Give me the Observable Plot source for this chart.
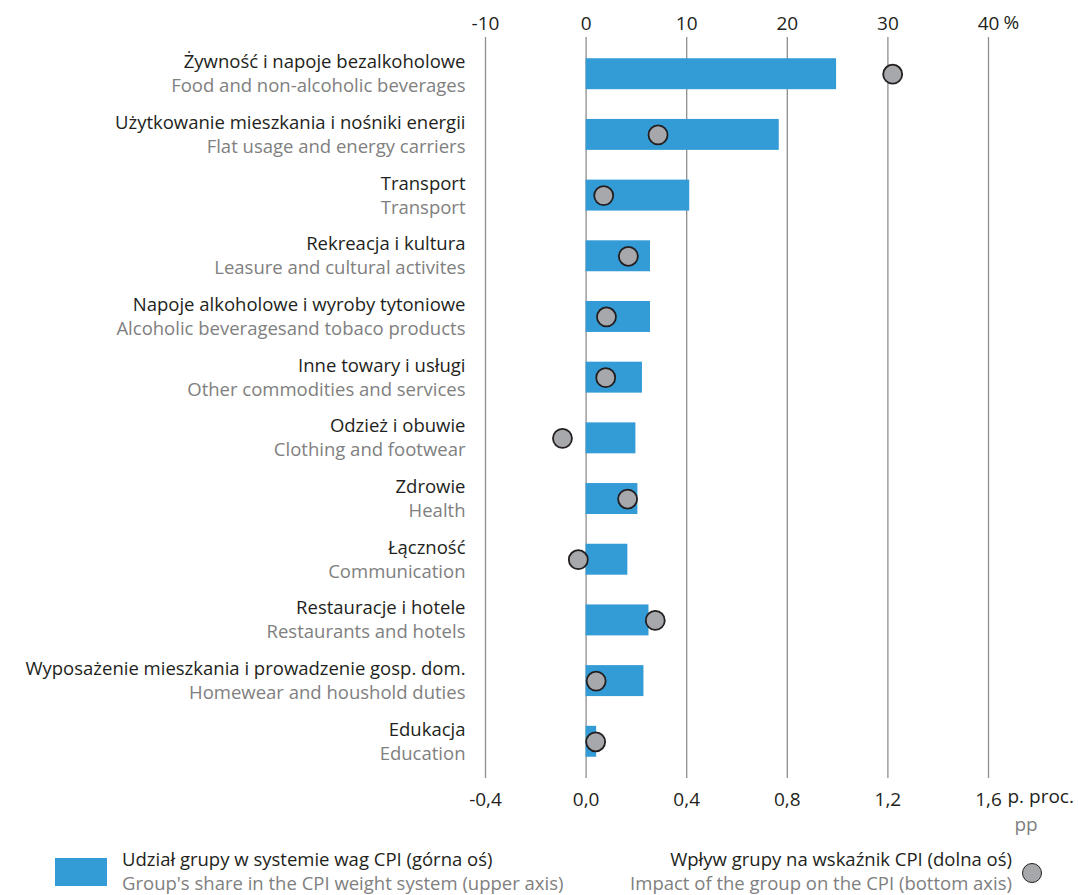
<!DOCTYPE html>
<html>
<head>
<meta charset="utf-8">
<script src="https://cdn.jsdelivr.net/npm/d3@7"></script>
<script src="https://cdn.jsdelivr.net/npm/@observablehq/plot@0.6"></script>
<style>
  html, body { margin: 0; padding: 0; background: #fff; }
  body { width: 1078px; height: 895px; position: relative; overflow: hidden; font-family: "Open Sans", sans-serif; }
  #chart { position: absolute; left: 0; top: 0; }
  .leg { position: absolute; font-size: 18.5px; line-height: 24px; white-space: nowrap; }
  .pl { color: #231f20; }
  .en { color: #808080; }
</style>
</head>
<body>
<div id="chart"></div>
<div class="leg" style="left:55px; top:858px; width:52px; height:28px; background:#339bd6;"></div>
<div class="leg" style="left:122px; top:847px;"><div class="pl">Udział grupy w systemie wag CPI (górna oś)</div><div class="en">Group's share in the CPI weight system (upper axis)</div></div>
<div class="leg" style="right:66px; top:847px; text-align:right;"><div class="pl">Wpływ grupy na wskaźnik CPI (dolna oś)</div><div class="en">Impact of the group on the CPI (bottom axis)</div></div>
<div class="leg" style="left:1022px; top:863px; width:18px; height:18px; border-radius:50%; background:#a7a8ac; border:1.6px solid #231f20;"></div>
<script>
const categoriesPL = [
  "Żywność i napoje bezalkoholowe",
  "Użytkowanie mieszkania i nośniki energii",
  "Transport",
  "Rekreacja i kultura",
  "Napoje alkoholowe i wyroby tytoniowe",
  "Inne towary i usługi",
  "Odzież i obuwie",
  "Zdrowie",
  "Łączność",
  "Restauracje i hotele",
  "Wyposażenie mieszkania i prowadzenie gosp. dom.",
  "Edukacja"
];
const categoriesEN = [
  "Food and non-alcoholic beverages",
  "Flat usage and energy carriers",
  "Transport",
  "Leasure and cultural activites",
  "Alcoholic beveragesand tobaco products",
  "Other commodities and services",
  "Clothing and footwear",
  "Health",
  "Communication",
  "Restaurants and hotels",
  "Homewear and houshold duties",
  "Education"
];
// Group's share in the CPI weight system (%), upper axis
const weights = [24.9, 19.2, 10.3, 6.4, 6.4, 5.6, 4.95, 5.15, 4.15, 6.25, 5.75, 1.05];
// Impact of the group on the CPI (pp), bottom axis
const impacts = [1.219, 0.286, 0.070, 0.168, 0.081, 0.078, -0.094, 0.165, -0.031, 0.275, 0.040, 0.038];

const topTicks = [-10, 0, 10, 20, 30, 40];
const topTickLabels = ["-10", "0", "10", "20", "30", "40"];
const bottomTickLabels = ["-0,4", "0,0", "0,4", "0,8", "1,2", "1,6"];
const axisRatio = 25; // 1 pp on bottom axis = 25 % on top axis

const rows = categoriesPL.map((pl, i) => ({
  pl, en: categoriesEN[i], weight: weights[i], impact: impacts[i], impactScaled: impacts[i] * axisRatio
}));

const font = "'Open Sans', sans-serif";
const chart = Plot.plot({
  width: 1078,
  height: 840,
  marginLeft: 485,
  marginRight: 90,
  marginTop: 37,
  marginBottom: 62,
  style: { fontFamily: font, background: "#fff" },
  x: { domain: [-10, 40] },
  y: { domain: categoriesPL, paddingInner: 0.49, paddingOuter: 0.35, round: false, axis: null },
  marks: [
    Plot.ruleX(topTicks, { stroke: "#8e8e8e", strokeWidth: 1.3 }),
    Plot.axisX({ anchor: "top", ticks: topTicks, tickFormat: (d, i) => topTickLabels[i], tickSize: 0, tickPadding: 8, fontSize: 19, fill: "#231f20" }),
    Plot.axisX({ anchor: "bottom", ticks: topTicks, tickFormat: (d, i) => bottomTickLabels[i], tickSize: 0, tickPadding: 14, fontSize: 19, fill: "#231f20" }),
    Plot.text([40], { x: d => d, frameAnchor: "top", dy: -22, dx: 15, text: () => "%", textAnchor: "start", fontSize: 19, fill: "#231f20" }),
    Plot.text([40], { x: d => d, frameAnchor: "bottom", dy: 24, dx: 19, text: () => "p. proc.", textAnchor: "start", fontSize: 19, fill: "#231f20" }),
    Plot.text([40], { x: d => d, frameAnchor: "bottom", dy: 52, dx: 26, text: () => "pp", textAnchor: "start", fontSize: 19, fill: "#808080" }),
    Plot.barX(rows, { x1: 0, x2: "weight", y: "pl", fill: "#339bd6" }),
    Plot.dot(rows, { x: "impactScaled", y: "pl", r: 9.5, fill: "#a7a8ac", stroke: "#231f20", strokeWidth: 1.8 }),
    Plot.text(rows, { x: () => -10, y: "pl", text: "pl", dx: -20, dy: -12, textAnchor: "end", fontSize: 18.5, fill: "#231f20" }),
    Plot.text(rows, { x: () => -10, y: "pl", text: "en", dx: -20, dy: 12, textAnchor: "end", fontSize: 18.5, fill: "#808080" })
  ]
});
document.getElementById("chart").appendChild(chart);
</script>
</body>
</html>
